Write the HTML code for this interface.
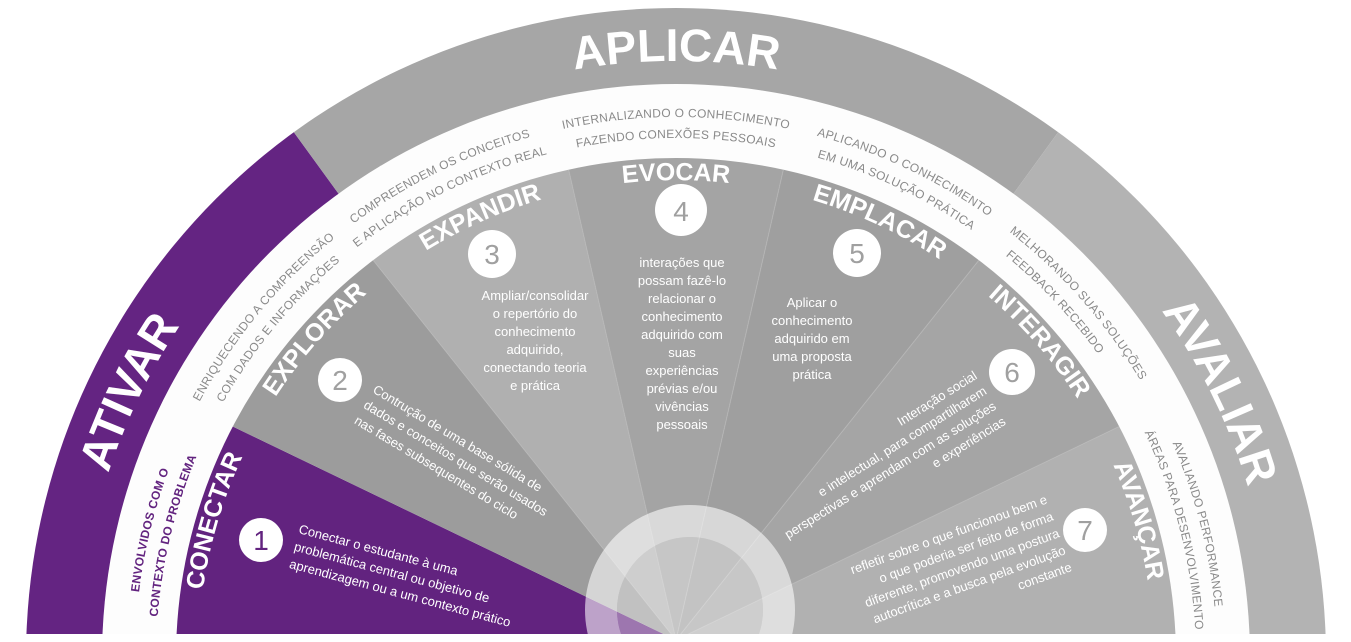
<!DOCTYPE html>
<html><head><meta charset="utf-8"><style>
html,body{margin:0;padding:0;background:#fff;overflow:hidden;width:1351px;height:642px;}
svg{display:block;}
.ring{font-family:"Liberation Sans",sans-serif;font-size:12px;fill:#8a8a8a;letter-spacing:0.3px;}
.band{font-family:"Liberation Sans",sans-serif;font-weight:bold;font-size:46px;fill:#fff;}
.ttl{font-family:"Liberation Sans",sans-serif;font-weight:bold;font-size:25px;fill:#fff;}
.desc{font-family:"Liberation Sans Narrow","Liberation Sans",sans-serif;font-size:13px;fill:#fff;}
.num{font-family:"Liberation Sans",sans-serif;font-size:28px;fill:#a0a0a0;text-anchor:middle;}
</style></head><body>
<svg width="1351" height="642" viewBox="0 0 1351 642" xmlns="http://www.w3.org/2000/svg">
<defs>
<clipPath id="bot"><rect x="0" y="0" width="1351" height="634"/></clipPath>
<clipPath id="outer"><circle cx="676" cy="658" r="650"/></clipPath>
<clipPath id="inner"><circle cx="676" cy="658" r="500"/></clipPath>
<path id="p597" d="M79,658 A597 597 0 0 1 1273,658"/>
<path id="p541" d="M135,658 A541 541 0 0 1 1217,658"/>
<path id="p520" d="M156,658 A520 520 0 0 1 1196,658"/>
<path id="p478" d="M198,658 A478 478 0 0 1 1154,658"/>
</defs>
<g clip-path="url(#bot)">
 <g clip-path="url(#outer)">
  <polygon points="676,658 88,-151 -400,-151 -400,700 676,700" fill="#642482"/>
  <polygon points="676,658 88,-151 1264,-151" fill="#a6a6a6"/>
  <polygon points="676,658 1264,-151 1800,-151 1800,700 676,700" fill="#b3b3b3"/>
 </g>
 <circle cx="676" cy="658" r="574" fill="#fdfdfd"/>
 <g clip-path="url(#inner)">
  <polygon points="676,640 -225,206 -324,640 -324,700 676,700" fill="#62237f"/>
  <polygon points="676,640 -225,206 52.5,-141.8" fill="#9c9c9c"/>
  <polygon points="676,640 52.5,-141.8 453.5,-334.9" fill="#b0b0b0"/>
  <polygon points="676,640 453.5,-334.9 898.5,-334.9" fill="#a4a4a4"/>
  <polygon points="676,640 898.5,-334.9 1299.5,-141.8" fill="#9f9f9f"/>
  <polygon points="676,640 1299.5,-141.8 1577,206" fill="#a5a5a5"/>
  <polygon points="676,640 1577,206 1676,640 1676,700 676,700" fill="#b1b1b1"/>
  <g stroke="#bdbdbd" stroke-width="1" opacity="0.6">
   <line x1="676" y1="640" x2="52.5" y2="-141.8"/><line x1="676" y1="640" x2="453.5" y2="-334.9"/>
   <line x1="676" y1="640" x2="898.5" y2="-334.9"/><line x1="676" y1="640" x2="1299.5" y2="-141.8"/>
   <line x1="676" y1="640" x2="1577" y2="206"/>
  </g>
 </g>
 <path d="M585,610 a105,105 0 1,0 210,0 a105,105 0 1,0 -210,0 Z M617,610 a73,73 0 1,1 146,0 a73,73 0 1,1 -146,0 Z" fill="#fff" fill-opacity="0.58" fill-rule="evenodd"/>
 <circle cx="690" cy="610" r="73" fill="#fff" fill-opacity="0.38"/>
</g>

<text class="band" text-anchor="middle"><textPath href="#p597" startOffset="14.4%">ATIVAR</textPath></text>
<text class="band" text-anchor="middle"><textPath href="#p597" startOffset="50%">APLICAR</textPath></text>
<text class="band" text-anchor="middle"><textPath href="#p597" startOffset="85.5%">AVALIAR</textPath></text>

<g class="ring" text-anchor="middle">
 <text style="fill:#62237f;font-weight:bold"><textPath href="#p541" startOffset="7.6%">ENVOLVIDOS COM O</textPath></text>
 <text style="fill:#62237f;font-weight:bold"><textPath href="#p520" startOffset="7.6%">CONTEXTO DO PROBLEMA</textPath></text>
 <text><textPath href="#p541" startOffset="22%">ENRIQUECENDO A COMPREENSÃO</textPath></text>
 <text><textPath href="#p520" startOffset="22%">COM DADOS E INFORMAÇÕES</textPath></text>
 <text><textPath href="#p541" startOffset="35.5%">COMPREENDEM OS CONCEITOS</textPath></text>
 <text><textPath href="#p520" startOffset="35.5%">E APLICAÇÃO NO CONTEXTO REAL</textPath></text>
 <text><textPath href="#p541" startOffset="50%">INTERNALIZANDO O CONHECIMENTO</textPath></text>
 <text><textPath href="#p520" startOffset="50%">FAZENDO CONEXÕES PESSOAIS</textPath></text>
 <text><textPath href="#p541" startOffset="64%">APLICANDO O CONHECIMENTO</textPath></text>
 <text><textPath href="#p520" startOffset="64%">EM UMA SOLUÇÃO PRÁTICA</textPath></text>
 <text><textPath href="#p541" startOffset="77%">MELHORANDO SUAS SOLUÇÕES</textPath></text>
 <text><textPath href="#p520" startOffset="76%">FEEDBACK RECEBIDO</textPath></text>
 <text><textPath href="#p541" startOffset="92%">AVALIANDO PERFORMANCE</textPath></text>
 <text><textPath href="#p520" startOffset="92%">ÁREAS PARA DESENVOLVIMENTO</textPath></text>
</g>

<g class="ttl" text-anchor="middle">
 <text><textPath href="#p478" startOffset="9.2%">CONECTAR</textPath></text>
 <text><textPath href="#p478" startOffset="23%">EXPLORAR</textPath></text>
 <text><textPath href="#p478" startOffset="36.7%">EXPANDIR</textPath></text>
 <text><textPath href="#p478" startOffset="50%">EVOCAR</textPath></text>
 <text><textPath href="#p478" startOffset="63.9%">EMPLACAR</textPath></text>
 <text><textPath href="#p478" startOffset="77.2%">INTERAGIR</textPath></text>
 <text><textPath href="#p478" startOffset="90.8%">AVANÇAR</textPath></text>
</g>

<g fill="#fff">
 <circle cx="261" cy="540" r="22"/><circle cx="340" cy="380" r="22"/><circle cx="492" cy="254" r="24"/>
 <circle cx="681" cy="210" r="26"/><circle cx="857" cy="253" r="24"/><circle cx="1012" cy="372" r="23"/>
 <circle cx="1085" cy="530" r="22"/>
</g>
<text class="num" x="261" y="550" style="fill:#62237f">1</text>
<text class="num" x="340" y="390">2</text>
<text class="num" x="492" y="264">3</text>
<text class="num" x="681" y="221">4</text>
<text class="num" x="857" y="263">5</text>
<text class="num" x="1012" y="382">6</text>
<text class="num" x="1085" y="540">7</text>

<g class="desc" transform="translate(298,533) rotate(15)">
 <text x="0" y="0">Conectar o estudante à uma</text>
 <text x="0" y="18">problemática central ou objetivo de</text>
 <text x="0" y="36">aprendizagem ou a um contexto prático</text>
</g>
<g class="desc" transform="translate(372,392) rotate(31)">
 <text x="0" y="0">Contrução de uma base sólida de</text>
 <text x="0" y="18">dados e conceitos que serão usados</text>
 <text x="0" y="36">nas fases subsequentes do ciclo</text>
</g>
<g class="desc" text-anchor="middle">
 <text x="535" y="300">Ampliar/consolidar</text>
 <text x="535" y="318">o repertório do</text>
 <text x="535" y="336">conhecimento</text>
 <text x="535" y="354">adquirido,</text>
 <text x="535" y="372">conectando teoria</text>
 <text x="535" y="390">e prática</text>
 <text x="682" y="267">interações que</text>
 <text x="682" y="285">possam fazê-lo</text>
 <text x="682" y="303">relacionar o</text>
 <text x="682" y="321">conhecimento</text>
 <text x="682" y="339">adquirido com</text>
 <text x="682" y="357">suas</text>
 <text x="682" y="375">experiências</text>
 <text x="682" y="393">prévias e/ou</text>
 <text x="682" y="411">vivências</text>
 <text x="682" y="429">pessoais</text>
 <text x="812" y="307">Aplicar o</text>
 <text x="812" y="325">conhecimento</text>
 <text x="812" y="343">adquirido em</text>
 <text x="812" y="361">uma proposta</text>
 <text x="812" y="379">prática</text>
</g>
<g class="desc" text-anchor="end" transform="translate(978,378) rotate(-32)">
 <text x="0" y="0">Interação social</text>
 <text x="0" y="18">e intelectual, para compartilharem</text>
 <text x="0" y="36">perspectivas e aprendam com as soluções</text>
 <text x="0" y="54">e experiências</text>
</g>
<g class="desc" text-anchor="end" transform="translate(1048,503) rotate(-20)">
 <text x="0" y="0">refletir sobre o que funcionou bem e</text>
 <text x="0" y="18">o que poderia ser feito de forma</text>
 <text x="0" y="36">diferente, promovendo uma postura</text>
 <text x="0" y="54">autocrítica e a busca pela evolução</text>
 <text x="0" y="72">constante</text>
</g>
</svg>
</body></html>
